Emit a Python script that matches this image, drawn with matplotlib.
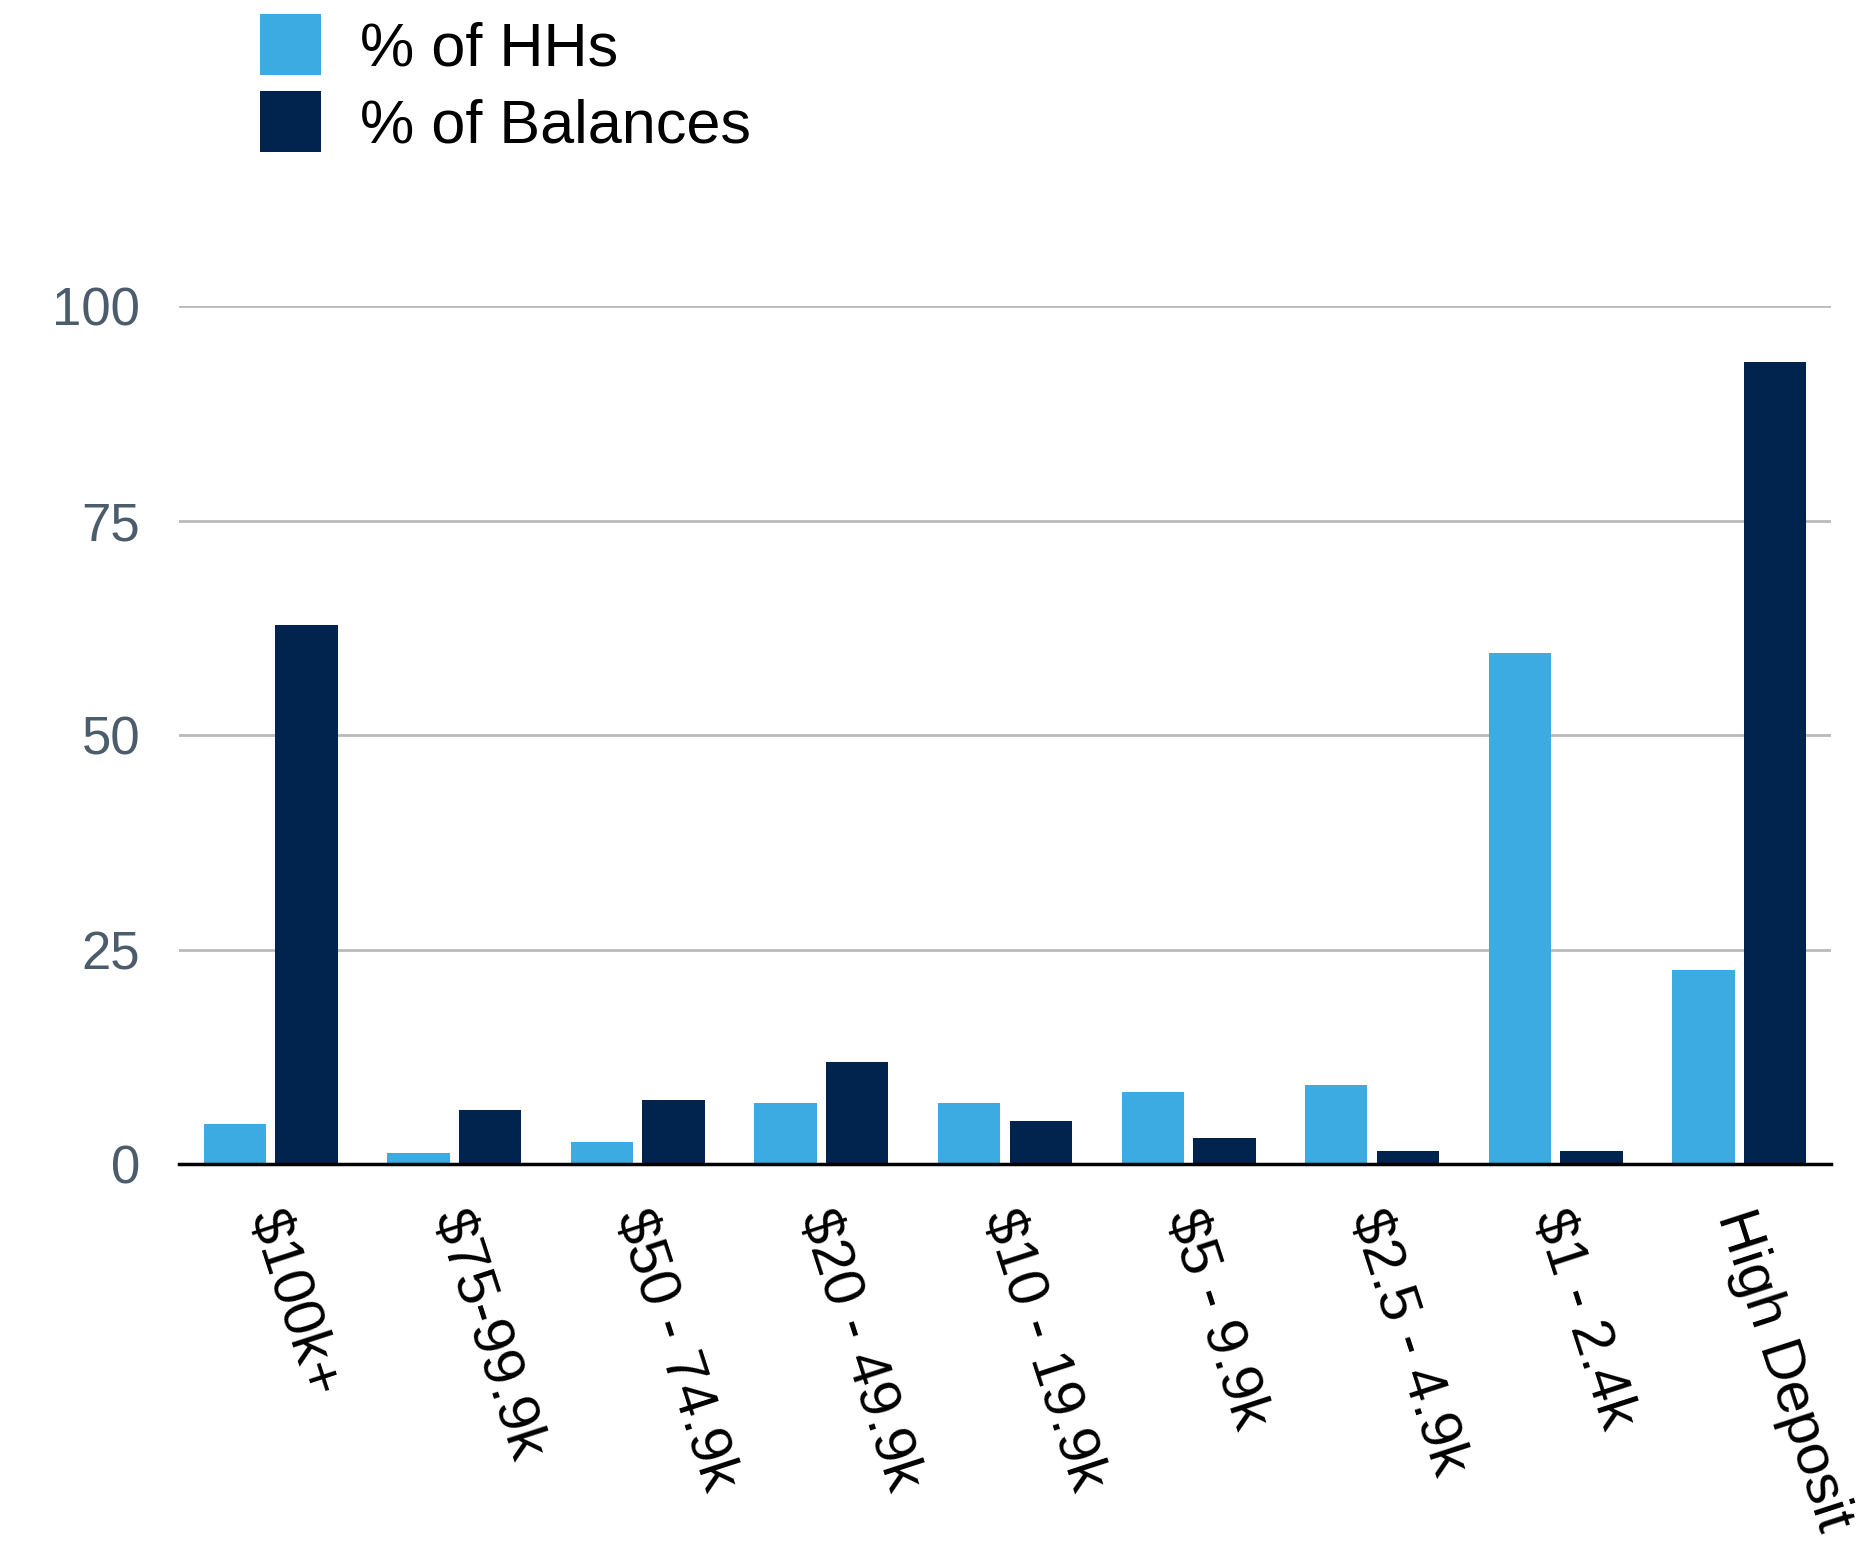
import numpy as np
import matplotlib.pyplot as plt

plt.rcParams['font.family'] = ['Liberation Sans', 'DejaVu Sans']

# balance tiers
tiers = ["$100k+", "$75-99.9k", "$50 - 74.9k", "$20 - 49.9k", "$10 - 19.9k",
         "$5 - 9.9k", "$2.5 - 4.9k", "$1 - 2.4k", "High Deposit"]
pct_hhs = [4.7, 1.3, 2.6, 7.2, 7.2, 8.4, 9.3, 59.6, 22.7]
pct_balances = [62.8, 6.3, 7.5, 11.9, 5.0, 3.1, 1.6, 1.6, 93.5]

light_blue = "#3babe1"
navy = "#01244f"

fig = plt.figure(figsize=(18.76, 15.59), dpi=100)
ax = fig.add_axes([0.0954, 0.2531, 0.8806, 0.5506])

x = np.arange(len(tiers))
w = 0.34
ax.bar(x - 0.195, pct_hhs, width=w, color=light_blue, label="% of HHs", zorder=3)
ax.bar(x + 0.195, pct_balances, width=w, color=navy, label="% of Balances", zorder=3)

ax.set_xlim(-0.5, len(tiers) - 0.5)
ax.set_ylim(0, 100)
ax.set_yticks([0, 25, 50, 75, 100])
ax.yaxis.grid(True, color="#bababa", linewidth=2, zorder=0)
ax.set_axisbelow(True)

for s in ["top", "right", "left"]:
    ax.spines[s].set_visible(False)
ax.spines["bottom"].set_linewidth(2.5)
ax.spines["bottom"].set_color("black")
ax.spines["bottom"].set_zorder(4)

ax.tick_params(axis="y", length=0, pad=28, labelsize=38, labelcolor="#4b5c6c")
ax.tick_params(axis="x", length=0)
ax.set_xticks(x)
ax.set_xticklabels([])

# slanted tier labels under each group
for xi, lab in zip(x, tiers):
    ax.text(xi + 0.1, -4.5, lab, rotation=-72, rotation_mode="anchor",
            ha="left", va="top", fontsize=42, color="black")

leg = ax.legend(loc="upper left", bbox_to_anchor=(260 / 1876, 1 - 14 / 1559),
                bbox_transform=fig.transFigure, frameon=False, fontsize=44,
                handlelength=1.0, handleheight=1.15, handletextpad=0.64,
                labelspacing=0.22, borderpad=0, borderaxespad=0)

fig.savefig("out.png", dpi=100, facecolor="white")
